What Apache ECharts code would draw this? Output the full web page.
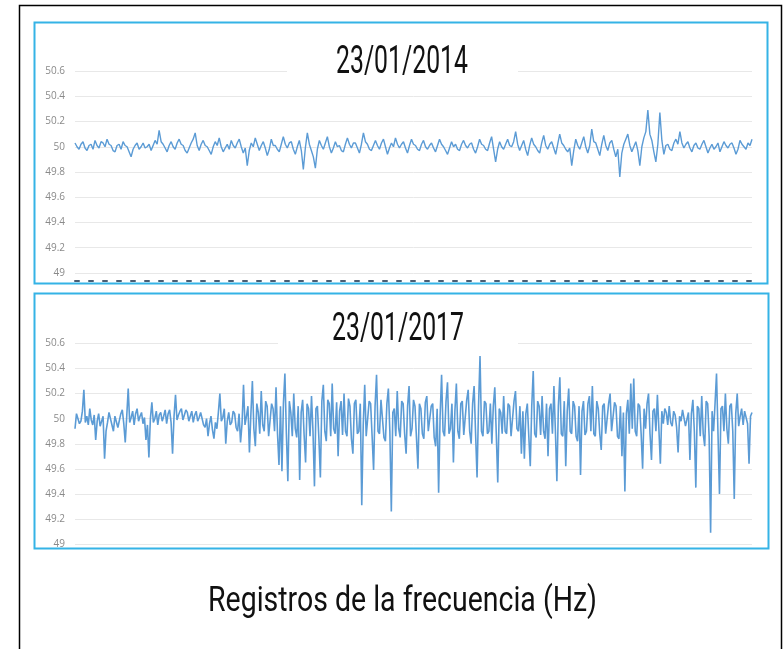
<!DOCTYPE html>
<html>
<head>
<meta charset="utf-8">
<title>Registros de la frecuencia</title>
<script src="https://cdn.jsdelivr.net/npm/echarts@6/dist/echarts.min.js"></script>
<style>
  html, body { margin: 0; padding: 0; background: #fff; }
  #chart { width: 784px; height: 649px; }
</style>
</head>
<body>
<div id="chart"></div>
<script>
// tick labels of the frequency axis (Hz)
const yMin = 49;
const yMax = 50.6;
const yStep = 0.2;

const titles = ['23/01/2014', '23/01/2017'];
const caption = 'Registros de la frecuencia (Hz)';

// 23/01/2014
const freq2014 = [
  50.03, 50.00, 49.98, 50.02, 50.04, 49.99, 49.97, 50.01, 50.02, 49.98, 50.05, 50.01, 49.99, 50.04, 50.03, 50.00, 50.06, 50.02, 50.01, 49.97,
  49.96, 50.01, 50.02, 49.98, 50.04, 50.01, 50.00, 49.96, 49.92, 49.98, 50.01, 50.03, 49.98, 50.00, 50.03, 49.99, 50.00, 50.02, 49.97, 50.01,
  50.05, 50.02, 50.13, 50.04, 50.02, 49.99, 49.96, 50.01, 50.04, 50.00, 49.98, 50.03, 50.06, 50.02, 50.01, 49.97, 49.95, 49.99, 50.03, 50.06,
  50.11, 50.01, 49.97, 50.02, 50.05, 50.01, 50.00, 49.97, 49.94, 50.00, 50.04, 50.01, 50.07, 50.00, 49.96, 49.99, 50.02, 49.98, 50.05, 50.01,
  49.99, 50.03, 50.06, 50.00, 49.95, 49.99, 49.85, 49.97, 50.03, 50.00, 50.07, 50.02, 49.97, 50.01, 50.04, 49.99, 49.93, 49.98, 50.06, 50.01,
  50.01, 49.98, 49.96, 50.02, 50.08, 50.02, 49.99, 50.03, 50.04, 49.98, 49.94, 50.00, 50.05, 49.97, 49.82, 49.99, 50.11, 50.02, 49.97, 49.92,
  49.83, 49.98, 50.05, 50.01, 49.98, 50.03, 50.08, 50.00, 49.95, 49.99, 50.04, 50.00, 50.01, 49.97, 49.96, 50.02, 50.07, 50.02, 49.99, 50.03,
  50.03, 49.99, 49.95, 50.02, 50.11, 50.04, 50.02, 49.98, 49.97, 50.01, 50.05, 50.01, 49.98, 50.03, 50.06, 50.00, 49.94, 49.99, 50.03, 50.00,
  50.07, 50.02, 49.99, 50.02, 50.04, 49.99, 49.95, 50.01, 50.06, 50.02, 50.01, 49.98, 49.97, 50.02, 50.05, 50.00, 49.98, 50.01, 50.03, 49.99,
  49.96, 50.01, 50.06, 50.02, 50.00, 49.97, 49.94, 49.99, 50.04, 50.00, 50.02, 49.98, 49.97, 50.02, 50.05, 50.01, 49.99, 50.02, 50.03, 49.98,
  49.95, 50.00, 50.06, 50.02, 50.01, 49.98, 49.97, 50.03, 50.08, 49.98, 49.88, 49.98, 50.04, 50.00, 49.98, 50.02, 50.06, 50.01, 50.00, 50.04,
  50.12, 50.02, 49.97, 50.01, 50.05, 49.98, 49.93, 50.01, 50.07, 50.02, 50.00, 49.97, 49.95, 50.03, 50.09, 50.01, 49.98, 50.02, 50.04, 49.99,
  49.94, 50.02, 50.10, 50.03, 50.01, 49.98, 49.96, 49.99, 49.85, 49.97, 50.06, 50.01, 49.98, 50.03, 50.08, 50.00, 49.95, 50.01, 50.14, 50.04,
  50.03, 49.98, 49.93, 50.02, 50.09, 50.01, 49.97, 50.03, 50.05, 49.98, 49.92, 49.98, 49.76, 49.95, 50.02, 50.06, 50.10, 50.01, 49.96, 50.00,
  50.04, 49.97, 49.85, 50.00, 50.07, 50.12, 50.29, 50.10, 50.05, 49.96, 49.88, 50.02, 50.27, 50.05, 49.94, 50.01, 50.02, 49.98, 49.97, 50.03,
  50.06, 50.02, 50.12, 50.03, 49.99, 50.02, 50.04, 49.99, 49.96, 50.01, 50.03, 49.99, 49.98, 50.02, 50.05, 50.00, 49.95, 49.99, 50.02, 49.98,
  50.00, 50.03, 49.96, 50.00, 50.04, 50.01, 49.99, 50.02, 50.03, 49.99, 49.94, 49.98, 50.05, 50.02, 50.00, 49.98, 50.03, 50.01, 50.06
];

// 23/01/2017
const freq2017 = [
  49.92, 50.04, 50.05, 49.96, 49.98, 50.06, 50.23, 49.97, 50.02, 49.95, 50.08, 49.99, 49.95, 50.03, 49.83, 49.98, 50.04, 49.94, 49.93, 50.02,
  49.68, 49.90, 49.97, 50.05, 50.06, 49.95, 49.90, 50.02, 50.03, 49.93, 49.94, 50.04, 50.07, 49.96, 49.81, 50.02, 50.24, 49.97, 50.01, 50.06,
  49.95, 50.04, 50.08, 49.98, 50.02, 50.05, 49.96, 50.01, 49.83, 49.95, 49.69, 50.00, 50.13, 49.97, 50.00, 50.06, 49.95, 50.03, 50.05, 49.98,
  50.02, 50.07, 49.96, 50.04, 50.07, 49.97, 49.72, 50.02, 50.19, 49.99, 50.03, 50.06, 50.08, 49.99, 50.00, 50.07, 50.05, 49.98, 50.02, 50.06,
  49.97, 50.03, 50.06, 49.98, 50.01, 50.05, 50.04, 49.95, 49.93, 50.00, 49.86, 49.96, 50.02, 49.91, 49.84, 49.97, 49.92, 50.05, 50.20, 49.98,
  50.01, 50.08, 49.80, 49.98, 50.05, 49.95, 49.97, 50.06, 50.04, 49.93, 49.90, 50.04, 49.81, 49.96, 50.27, 49.95, 50.02, 50.10, 49.73, 50.04,
  50.30, 49.92, 49.78, 50.12, 50.05, 49.88, 50.22, 49.95, 49.90, 50.14, 50.10, 49.86, 49.85, 50.12, 50.08, 49.90, 50.25, 49.88, 49.63, 50.10,
  49.58, 50.12, 50.36, 49.88, 49.50, 50.14, 50.05, 49.86, 50.20, 49.92, 49.85, 50.10, 49.51, 50.05, 50.15, 49.87, 49.65, 50.12, 50.08, 49.86,
  50.18, 49.90, 49.46, 50.08, 50.10, 49.84, 49.53, 50.14, 50.27, 49.90, 49.82, 50.15, 50.12, 49.86, 50.28, 49.92, 49.88, 50.13, 49.70, 50.06,
  50.14, 49.87, 50.20, 49.90, 49.86, 50.16, 50.10, 49.84, 49.72, 50.12, 50.15, 49.88, 49.90, 50.12, 49.31, 49.95, 50.27, 49.86, 49.85, 50.14,
  50.12, 49.86, 49.59, 50.10, 50.35, 49.90, 49.88, 50.15, 50.14, 49.85, 49.82, 50.12, 50.24, 49.90, 49.26, 50.05, 50.08, 49.86, 50.22, 49.92,
  49.85, 50.14, 50.12, 49.88, 49.72, 50.10, 50.26, 49.86, 49.92, 50.15, 50.10, 49.85, 49.60, 50.12, 50.08, 49.88, 49.84, 50.13, 50.18, 49.90,
  49.90, 50.10, 50.12, 49.85, 49.78, 50.08, 49.41, 50.02, 50.35, 49.90, 49.86, 50.14, 50.29, 49.88, 49.92, 50.12, 49.65, 50.06, 50.28, 49.90,
  49.84, 50.12, 50.14, 49.87, 49.88, 50.15, 50.23, 49.90, 49.80, 50.12, 50.26, 49.88, 49.53, 50.10, 50.50, 49.90, 49.86, 50.14, 50.12, 49.88,
  49.90, 50.12, 49.80, 50.10, 50.25, 49.88, 49.49, 50.08, 50.05, 49.88, 50.18, 49.90, 49.88, 50.12, 50.10, 49.86, 49.85, 50.14, 50.22, 49.92,
  49.90, 50.10, 49.72, 50.06, 49.68, 50.04, 50.12, 49.86, 49.62, 50.10, 50.38, 49.88, 49.85, 50.14, 50.10, 49.87, 50.18, 49.90, 49.84, 50.12,
  49.70, 50.08, 50.12, 49.88, 50.26, 49.90, 49.50, 50.10, 50.33, 49.88, 49.86, 50.14, 49.62, 50.06, 50.24, 49.90, 49.88, 50.14, 50.10, 49.86,
  49.82, 50.10, 49.55, 50.06, 50.14, 49.87, 49.90, 50.12, 50.18, 49.90, 50.26, 49.88, 49.86, 50.14, 50.08, 49.88, 49.75, 50.10, 50.12, 49.88,
  49.88, 50.12, 50.20, 49.90, 49.90, 50.13, 50.10, 49.86, 49.84, 50.10, 49.70, 50.05, 49.42, 50.04, 50.15, 49.88, 50.28, 49.92, 50.32, 49.90,
  49.86, 50.12, 50.10, 49.88, 49.60, 50.08, 49.92, 50.12, 50.20, 49.88, 49.67, 50.06, 50.08, 49.90, 50.19, 49.92, 49.64, 50.06, 49.96, 50.08,
  50.05, 49.95, 50.10, 49.97, 49.94, 50.06, 50.03, 49.93, 49.73, 50.02, 49.98, 50.07, 50.06, 49.94, 49.95, 50.05, 49.67, 50.04, 50.15, 49.90,
  49.45, 50.10, 50.08, 49.86, 50.18, 49.88, 49.78, 50.14, 50.12, 49.86, 49.09, 50.06, 49.90, 50.12, 50.36, 49.88, 49.40, 50.08, 50.10, 49.90,
  50.20, 49.92, 49.80, 50.10, 50.12, 49.90, 49.36, 50.04, 50.20, 49.94, 50.02, 50.08, 49.95, 50.06, 50.06, 49.96, 49.64, 50.02, 50.05
];

const lineColor = '#5b9bd5';
const frameColor = '#35b3e6';
const textFont = 'Roboto, "Noto Sans", sans-serif';

// horizontal squeeze so the plain fonts match the condensed lettering
function squeeze(text, font, width) {
  const ctx = document.createElement('canvas').getContext('2d');
  ctx.font = font;
  return width / ctx.measureText(text).width;
}

function idx(arr) {
  return arr.map((_, i) => i);
}

function yAxisFor(gridIndex) {
  return {
    gridIndex: gridIndex,
    type: 'value',
    min: yMin,
    max: yMax,
    interval: yStep,
    axisLine: { show: false },
    axisTick: { show: false },
    axisLabel: { color: '#8a8a8a', fontSize: 10, margin: 10, fontFamily: '"Open Sans", sans-serif' },
    splitLine: { lineStyle: { color: '#e8e8e8', width: 1 } }
  };
}

function label(text, cx, cy, size, width) {
  const font = size + 'px ' + textFont;
  return {
    type: 'text', z: 101, silent: true,
    x: cx, y: cy,
    scaleX: squeeze(text, font, width),
    style: { x: 0, y: 0, text: text, fill: '#111', font: font, align: 'center', verticalAlign: 'middle' }
  };
}

let chart = echarts.init(document.getElementById('chart'), null, { renderer: 'canvas' });

chart.setOption({
  animation: false,
  backgroundColor: '#fff',
  grid: [
    { left: 75, top: 71, width: 677, height: 202 },
    { left: 75, top: 343.5, width: 677, height: 200.5 }
  ],
  xAxis: [
    {
      gridIndex: 0,
      type: 'category',
      data: idx(freq2014),
      boundaryGap: false,
      offset: 8,
      axisLine: { show: true, lineStyle: { color: '#4a5d72', width: 2, type: [4, 10] } },
      axisTick: { show: false },
      axisLabel: { show: false },
      splitLine: { show: false }
    },
    {
      gridIndex: 1,
      type: 'category',
      data: idx(freq2017),
      boundaryGap: false,
      axisLine: { show: false },
      axisTick: { show: false },
      axisLabel: { show: false },
      splitLine: { show: false }
    }
  ],
  yAxis: [yAxisFor(0), yAxisFor(1)],
  series: [
    {
      type: 'line',
      xAxisIndex: 0,
      yAxisIndex: 0,
      data: freq2014,
      showSymbol: false,
      lineStyle: { color: lineColor, width: 1.4 }
    },
    {
      type: 'line',
      xAxisIndex: 1,
      yAxisIndex: 1,
      data: freq2017,
      showSymbol: false,
      lineStyle: { color: lineColor, width: 1.6 }
    }
  ],
  graphic: [
    // outer frame
    {
      type: 'rect', z: 100, silent: true,
      shape: { x: 19.5, y: 5.5, width: 762, height: 660 },
      style: { fill: 'none', stroke: '#000', lineWidth: 1.5 }
    },
    // panel frames
    {
      type: 'rect', z: 100, silent: true,
      shape: { x: 34.5, y: 22.5, width: 733, height: 261 },
      style: { fill: 'none', stroke: frameColor, lineWidth: 2 }
    },
    {
      type: 'rect', z: 100, silent: true,
      shape: { x: 34.5, y: 293.5, width: 734, height: 255 },
      style: { fill: 'none', stroke: frameColor, lineWidth: 2 }
    },
    // title backgrounds hide the top gridline
    {
      type: 'rect', z: 100, silent: true,
      shape: { x: 287, y: 45, width: 231, height: 36 },
      style: { fill: '#fff' }
    },
    {
      type: 'rect', z: 100, silent: true,
      shape: { x: 278, y: 310, width: 240, height: 40 },
      style: { fill: '#fff' }
    },
    label(titles[0], 402, 63, 38, 132),
    label(titles[1], 398, 330, 38, 132),
    label(caption, 402.5, 602, 35, 389)
  ]
});
</script>
</body>
</html>
